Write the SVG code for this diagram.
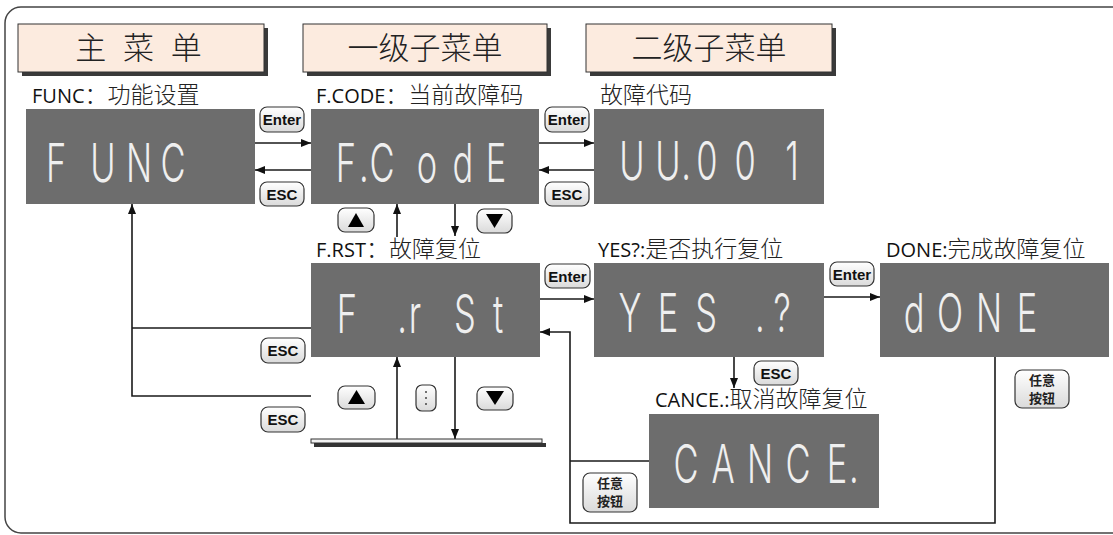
<svg xmlns="http://www.w3.org/2000/svg" width="1113" height="535" viewBox="0 0 1113 535">
<defs>
<linearGradient id="bg" x1="0" y1="0" x2="0" y2="1">
<stop offset="0" stop-color="#ffffff"/><stop offset="1" stop-color="#dadada"/>
</linearGradient>
<marker id="ah" viewBox="0 0 10 8" refX="10" refY="4" markerWidth="10" markerHeight="8" markerUnits="userSpaceOnUse" orient="auto">
<path d="M0,0 L10,4 L0,8 z" fill="#111"/>
</marker>
<style>
.panel{fill:#6d6d6d}
.seg{font-family:Inter,"Liberation Mono",monospace;font-weight:300;font-size:53px;fill:#efefef;text-anchor:middle}
.btn{fill:url(#bg);stroke:#333;stroke-width:1.2}
.bt{font-family:"Liberation Sans Narrow","Liberation Sans",sans-serif;font-weight:bold;font-size:15px;text-anchor:middle;fill:#111}
.bc{font-family:"Noto Sans CJK SC",sans-serif;font-weight:bold;font-size:13px;text-anchor:middle;fill:#222}
.lbl{font-family:"Open Sans","Noto Sans CJK SC",sans-serif;font-size:20px;fill:#111}
.cjk{font-family:"Noto Sans CJK SC",sans-serif;font-size:23px;font-weight:300;fill:#222}
.hdr{font-family:"Noto Sans CJK SC",sans-serif;font-size:31px;font-weight:300;text-anchor:middle;fill:#222}
.hbox{fill:#fcebdf;stroke:#333;stroke-width:1}
.hsh{fill:#3a3a3a}
.ln{fill:none;stroke:#1a1a1a;stroke-width:1.6}
.arr{marker-end:url(#ah)}
.tri{fill:#000}
</style>
</defs>
<rect x="5" y="7" width="1125" height="526" rx="16" fill="#fff" stroke="#444" stroke-width="1.5"/>

<g id="hdr-main"><rect class="hsh" x="22" y="28" width="246" height="48"/><rect class="hbox" x="18" y="24" width="246" height="48"/><text class="hdr" x="141" y="59" letter-spacing="5">主 菜 单</text></g>
<g id="hdr-sub1"><rect class="hsh" x="307" y="28" width="244" height="48"/><rect class="hbox" x="303" y="24" width="244" height="48"/><text class="hdr" x="425" y="59">一级子菜单</text></g>
<g id="hdr-sub2"><rect class="hsh" x="590" y="28" width="246" height="48"/><rect class="hbox" x="586" y="24" width="246" height="48"/><text class="hdr" x="709" y="59">二级子菜单</text></g>

<g id="connectors">
<path class="ln arr" d="M255,143 H311"/>
<path class="ln arr" d="M311,170 H255"/>
<path class="ln arr" d="M539,143 H594"/>
<path class="ln arr" d="M594,170 H539"/>
<path class="ln arr" d="M397,237 V204"/>
<path class="ln arr" d="M455,204 V236"/>
<path class="ln" d="M311,328 H132"/>
<path class="ln arr" d="M311,396 H132 V204"/>
<path class="ln arr" d="M540,299 H594"/>
<path class="ln arr" d="M824,297 H880"/>
<path class="ln arr" d="M734,357 V388"/>
<path class="ln arr" d="M995,357 V523 H570 V332 H540"/>
<path class="ln" d="M649,461 H570"/>
<path class="ln arr" d="M397,439 V357"/>
<path class="ln arr" d="M455,357 V439"/>
</g>

<g id="node-func">
<text class="lbl" x="32" y="103">FUNC<tspan class="cjk">：功能设置</tspan></text>
<rect class="panel" x="26" y="109" width="229" height="95"/>
<text class="seg" transform="scale(0.65 1)" x="86.2 158.5 213.8 266.2" y="182">FUNC</text>
</g>
<g id="node-fcode">
<text class="lbl" x="316" y="103">F.CODE<tspan class="cjk">：当前故障码</tspan></text>
<rect class="panel" x="311" y="109" width="228" height="95"/>
<text class="seg" transform="scale(0.65 1)" x="532.3 560 587.7 656.9 712.3 763.1" y="182">F.CodE</text>
</g>
<g id="node-code">
<text class="cjk" x="600" y="103">故障代码</text>
<rect class="panel" x="594" y="109" width="230" height="95"/>
<text class="seg" transform="scale(0.65 1)" x="972.3 1027.7 1055.4 1087.7 1146.2 1218.5" y="180">UU.001</text>
</g>
<g id="node-frst">
<text class="lbl" x="316" y="257">F.RST<tspan class="cjk">：故障复位</tspan></text>
<rect class="panel" x="311" y="263" width="229" height="94"/>
<text class="seg" transform="scale(0.65 1)" x="533.8 618.5 638.5 715.4 766.2" y="333">F.rSt</text>
</g>
<g id="node-yes">
<text class="lbl" x="598" y="257">YES?:<tspan class="cjk">是否执行复位</tspan></text>
<rect class="panel" x="594" y="263" width="230" height="94"/>
<text class="seg" transform="scale(0.65 1)" x="969.2 1027.7 1086.2 1169.2 1203.1" y="332">YES.?</text>
</g>
<g id="node-done">
<text class="lbl" x="886" y="257">DONE:<tspan class="cjk">完成故障复位</tspan></text>
<rect class="panel" x="880" y="263" width="229" height="94"/>
<text class="seg" transform="scale(0.65 1)" x="1406.2 1461.5 1521.5 1580" y="332">dONE</text>
</g>
<g id="node-cance">
<text class="lbl" x="655" y="407">CANCE.:<tspan class="cjk">取消故障复位</tspan></text>
<rect class="panel" x="649" y="414" width="230" height="94"/>
<text class="seg" transform="scale(0.65 1)" x="1055.4 1112.3 1169.2 1227.7 1287.7 1313.8" y="483">CANCE.</text>
</g>
<g id="node-bar">
<rect x="314" y="443" width="232" height="4" fill="#333"/>
<rect x="311" y="439" width="231" height="4" fill="#f2f2f2" stroke="#333" stroke-width="1"/>
</g>

<g id="btn-enter1"><rect class="btn" x="260" y="107" width="44" height="25" rx="7"/><text class="bt" x="282" y="125">Enter</text></g>
<g id="btn-esc1"><rect class="btn" x="260" y="182" width="44" height="24" rx="7"/><text class="bt" x="282" y="199.5">ESC</text></g>
<g id="btn-enter2"><rect class="btn" x="545" y="107" width="44" height="25" rx="7"/><text class="bt" x="567" y="125">Enter</text></g>
<g id="btn-esc2"><rect class="btn" x="545" y="182" width="44" height="24" rx="7"/><text class="bt" x="567" y="199.5">ESC</text></g>
<g id="btn-up1"><rect class="btn" x="338" y="208" width="36" height="24" rx="7"/><polygon class="tri" points="348,227 364,227 356,213"/></g>
<g id="btn-down1"><rect class="btn" x="477" y="209" width="35" height="24" rx="7"/><polygon class="tri" points="486,214 503,214 494.5,228"/></g>
<g id="btn-esc3"><rect class="btn" x="261" y="338" width="44" height="25" rx="7"/><text class="bt" x="283" y="356">ESC</text></g>
<g id="btn-esc4"><rect class="btn" x="261" y="407" width="44" height="25" rx="7"/><text class="bt" x="283" y="425">ESC</text></g>
<g id="btn-up2"><rect class="btn" x="338" y="386" width="37" height="23" rx="7"/><polygon class="tri" points="348,404 365,404 356.5,390"/></g>
<g id="btn-dots"><rect class="btn" x="416" y="385" width="20" height="26" rx="6"/><circle cx="426" cy="392" r="1" fill="#444"/><circle cx="426" cy="398" r="1" fill="#444"/><circle cx="426" cy="404" r="1" fill="#444"/></g>
<g id="btn-down2"><rect class="btn" x="477" y="387" width="36" height="23" rx="7"/><polygon class="tri" points="486,391 504,391 495,405"/></g>
<g id="btn-enter3"><rect class="btn" x="545" y="264" width="45" height="24" rx="7"/><text class="bt" x="567.5" y="281.5">Enter</text></g>
<g id="btn-enter4"><rect class="btn" x="830" y="262" width="44" height="24" rx="7"/><text class="bt" x="852" y="279.5">Enter</text></g>
<g id="btn-esc5"><rect class="btn" x="754" y="361" width="44" height="24" rx="7"/><text class="bt" x="776" y="378.5">ESC</text></g>
<g id="btn-any1"><rect class="btn" x="583" y="473" width="54" height="39" rx="7"/><text class="bc" x="610" y="488">任意</text><text class="bc" x="610" y="506">按钮</text></g>
<g id="btn-any2"><rect class="btn" x="1015" y="370" width="54" height="38" rx="7"/><text class="bc" x="1042" y="385">任意</text><text class="bc" x="1042" y="403">按钮</text></g>
</svg>
